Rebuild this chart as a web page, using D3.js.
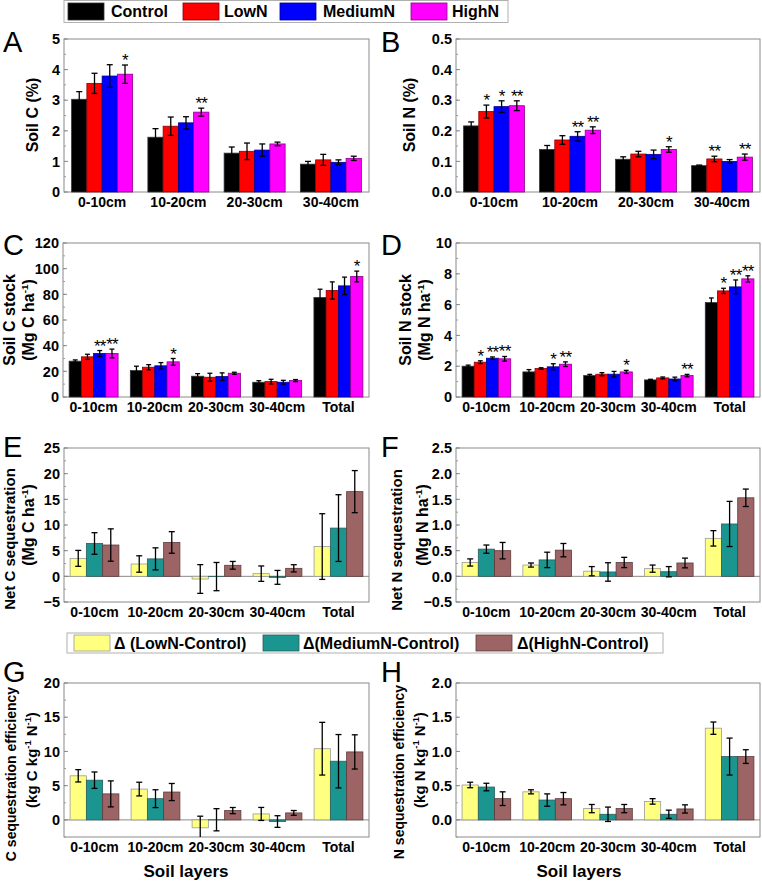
<!DOCTYPE html>
<html><head><meta charset="utf-8">
<script src="https://cdn.jsdelivr.net/npm/d3@7"></script>
<style>
body{margin:0;background:#fff}
svg{display:block}
text{font-family:Arial,"Liberation Sans",sans-serif;fill:#000}
</style>
</head><body>
<svg id="chart" width="762" height="884"></svg>
<script>
// ---------- categories ----------
const layers4 = ["0-10cm", "10-20cm", "20-30cm", "30-40cm"];
const layers5 = ["0-10cm", "10-20cm", "20-30cm", "30-40cm", "Total"];
const treatments = ["Control", "LowN", "MediumN", "HighN"];
const treatmentColors = ["#000000", "#ff0000", "#0000ff", "#ff00ff"];
const deltaNames = ["\u0394 (LowN-Control)", "\u0394(MediumN-Control)", "\u0394(HighN-Control)"];
const deltaColors = ["#ffff80", "#1b9590", "#9c6464"];

// ---------- A: Soil C (%) rows = treatments ----------
const soilC    = [[3.03, 1.79, 1.27, 0.91], [3.55, 2.15, 1.33, 1.05], [3.79, 2.26, 1.37, 0.97], [3.85, 2.61, 1.57, 1.10]];
const soilCErr = [[0.25, 0.28, 0.20, 0.09], [0.33, 0.30, 0.27, 0.18], [0.37, 0.20, 0.20, 0.08], [0.30, 0.13, 0.06, 0.07]];
const soilCSig = [["", "", "", ""], ["", "", "", ""], ["", "", "", ""], ["*", "**", "", ""]];

// ---------- B: Soil N (%) ----------
const soilN    = [[0.216, 0.139, 0.107, 0.086], [0.263, 0.170, 0.124, 0.108], [0.279, 0.182, 0.123, 0.100], [0.282, 0.202, 0.139, 0.114]];
const soilNErr = [[0.013, 0.013, 0.008, 0.002], [0.021, 0.014, 0.009, 0.009], [0.019, 0.015, 0.014, 0.006], [0.016, 0.011, 0.009, 0.010]];
const soilNSig = [["", "", "", ""], ["*", "", "", "**"], ["*", "**", "", ""], ["**", "**", "*", "**"]];

// ---------- C: Soil C stock ----------
const stockC    = [[27.9, 20.6, 16.2, 11.5, 77.5], [31.3, 23.2, 15.4, 12.0, 83.0], [33.9, 24.3, 15.9, 11.5, 86.6], [33.9, 27.4, 18.5, 12.8, 93.9]];
const stockCErr = [[1.0, 3.4, 2.0, 1.2, 6.5], [2.0, 2.0, 3.1, 1.8, 6.7], [2.3, 2.5, 2.9, 1.5, 6.8], [3.4, 2.6, 0.8, 0.8, 4.2]];
const stockCSig = [["", "", "", "", ""], ["", "", "", "", ""], ["**", "", "", "", ""], ["**", "*", "", "", "*"]];

// ---------- D: Soil N stock ----------
const stockN    = [[2.00, 1.63, 1.39, 1.11, 6.13], [2.26, 1.85, 1.48, 1.24, 6.89], [2.52, 1.96, 1.48, 1.17, 7.15], [2.48, 2.13, 1.63, 1.39, 7.67]];
const stockNErr = [[0.07, 0.15, 0.08, 0.04, 0.30], [0.09, 0.05, 0.10, 0.06, 0.17], [0.08, 0.20, 0.18, 0.12, 0.45], [0.15, 0.15, 0.10, 0.08, 0.20]];
const stockNSig = [["", "", "", "", ""], ["*", "", "", "", "*"], ["**", "*", "", "", "**"], ["**", "**", "*", "**", "**"]];

// ---------- E: Net C sequestration (rows = deltas) ----------
const netC    = [[3.5, 2.4, -0.52, 0.52, 5.8], [6.4, 3.4, -0.05, -0.2, 9.4], [6.1, 6.6, 2.15, 1.56, 16.5]];
const netCErr = [[1.55, 1.6, 2.8, 1.5, 6.4], [2.1, 2.15, 2.75, 1.35, 6.5], [3.15, 2.1, 0.75, 0.7, 4.1]];

// ---------- F: Net N sequestration ----------
const netN    = [[0.27, 0.22, 0.10, 0.15, 0.74], [0.53, 0.32, 0.085, 0.09, 1.02], [0.50, 0.51, 0.27, 0.26, 1.53]];
const netNErr = [[0.07, 0.04, 0.09, 0.07, 0.15], [0.08, 0.15, 0.18, 0.10, 0.44], [0.16, 0.13, 0.10, 0.095, 0.17]];

// ---------- G: C sequestration efficiency ----------
const effC    = [[6.44, 4.5, -1.16, 0.87, 10.4], [5.8, 3.1, 0.02, -0.24, 8.57], [3.8, 4.07, 1.36, 1.02, 9.93]];
const effCErr = [[0.9, 1.0, 1.7, 0.95, 3.85], [1.2, 1.3, 1.62, 0.85, 3.9], [1.9, 1.25, 0.45, 0.35, 2.5]];

// ---------- H: N sequestration efficiency ----------
const effN    = [[0.51, 0.41, 0.165, 0.27, 1.34], [0.48, 0.29, 0.082, 0.082, 0.925], [0.31, 0.31, 0.165, 0.16, 0.925]];
const effNErr = [[0.04, 0.03, 0.06, 0.04, 0.09], [0.055, 0.09, 0.105, 0.06, 0.27], [0.1, 0.09, 0.06, 0.06, 0.1]];

// ---------- drawing ----------
const svg = d3.select("#chart");

function drawPanel(cfg) {
  const g = svg.append("g");
  const x = d3.scaleBand().domain(cfg.cats).range([cfg.x0, cfg.x1]).paddingInner(0.2).paddingOuter(0.1);
  const nS = cfg.values.length;
  const xi = d3.scaleBand().domain(d3.range(nS)).range([0, x.bandwidth()]);
  const y = d3.scaleLinear().domain(cfg.domain).range([cfg.y1, cfg.y0]);
  const [dmin, dmax] = cfg.domain;

  g.append("rect").attr("x", cfg.x0).attr("y", cfg.y0)
    .attr("width", cfg.x1 - cfg.x0).attr("height", cfg.y1 - cfg.y0)
    .attr("fill", "none").attr("stroke", "#8a8a8a").attr("stroke-width", 1);

  const major = d3.range(cfg.tickStart, dmax + cfg.step / 1000, cfg.step);
  const minor = d3.range(dmin, dmax + cfg.step / 1000, cfg.step / 2);
  g.selectAll(".mn").data(minor).join("line")
    .attr("x1", cfg.x0).attr("x2", cfg.x0 + 2)
    .attr("y1", d => y(d)).attr("y2", d => y(d)).attr("stroke", "#9a9a9a");
  g.selectAll(".mj").data(major).join("line")
    .attr("x1", cfg.x0).attr("x2", cfg.x0 + 4)
    .attr("y1", d => y(d)).attr("y2", d => y(d)).attr("stroke", "#8a8a8a");
  g.selectAll(".yl").data(major).join("text")
    .attr("x", cfg.x0 - 4).attr("y", d => y(d)).attr("dy", "0.36em")
    .attr("text-anchor", "end").attr("font-size", 14.5).attr("font-weight", "bold")
    .text(d => d3.format(cfg.fmt)(d));

  if (dmin < 0) {
    g.append("line").attr("x1", cfg.x0).attr("x2", cfg.x1)
      .attr("y1", y(0)).attr("y2", y(0)).attr("stroke", "#8a8a8a");
  }

  cfg.values.forEach((row, s) => {
    row.forEach((v, i) => {
      const bx = x(cfg.cats[i]) + xi(s);
      const bw = xi.bandwidth();
      g.append("rect").attr("x", bx).attr("y", y(Math.max(0, v)))
        .attr("width", bw).attr("height", Math.abs(y(v) - y(0)))
        .attr("fill", cfg.colors[s]).attr("stroke", cfg.strokes[s]).attr("stroke-width", 0.8);
    });
  });
  cfg.values.forEach((row, s) => {
    row.forEach((v, i) => {
      const cx = x(cfg.cats[i]) + xi(s) + xi.bandwidth() / 2;
      const e = cfg.errs[s][i];
      const top = v + e, bot = Math.max(dmin, v - e);
      const cw = Math.min(3, xi.bandwidth() * 0.2);
      g.append("line").attr("x1", cx).attr("x2", cx).attr("y1", y(top)).attr("y2", y(bot))
        .attr("stroke", "#000").attr("stroke-width", 1.3);
      g.append("line").attr("x1", cx - cw).attr("x2", cx + cw).attr("y1", y(top)).attr("y2", y(top))
        .attr("stroke", "#000").attr("stroke-width", 1.3);
      if (v - e >= dmin) {
        g.append("line").attr("x1", cx - cw).attr("x2", cx + cw).attr("y1", y(bot)).attr("y2", y(bot))
          .attr("stroke", "#000").attr("stroke-width", 1.3);
      }
      if (cfg.sig && cfg.sig[s][i]) {
        g.append("text").attr("x", cx).attr("y", y(top) + 1)
          .attr("text-anchor", "middle").attr("font-size", 17)
          .attr("letter-spacing", -0.8)
          .text(cfg.sig[s][i]);
      }
    });
  });

  g.selectAll(".xl").data(cfg.cats).join("text")
    .attr("x", d => x(d) + x.bandwidth() / 2).attr("y", cfg.y1 + 15)
    .attr("text-anchor", "middle").attr("font-size", 14).attr("font-weight", "bold")
    .text(d => d);

  g.append("text").attr("x", cfg.letterX).attr("y", cfg.letterY)
    .attr("font-size", 29).text(cfg.letter);

  cfg.titles.forEach(t => {
    const tx = g.append("text")
      .attr("transform", `translate(${t.x},${t.cy}) rotate(-90)`)
      .attr("text-anchor", "middle").attr("font-size", t.size).attr("font-weight", "bold");
    if (t.sup) {
      t.parts.forEach((p, k) => {
        const ts = tx.append("tspan").text(p);
        if (k % 2 === 1) ts.attr("font-size", t.size * 0.62).attr("dy", -6);
        else if (k > 0) ts.attr("dy", 6);
      });
    } else {
      tx.text(t.text);
    }
  });
}

const strokeT = ["#333", "#8b0000", "#00008b", "#8b008b"];
const strokeD = ["#9a9a9a", "#2b5e5c", "#5e3b3b"];

drawPanel({letter: "A", letterX: 3, letterY: 52, cats: layers4, values: soilC, errs: soilCErr, sig: soilCSig,
  colors: treatmentColors, strokes: strokeT, domain: [0, 5], tickStart: 0, step: 1, fmt: "d",
  x0: 64, x1: 369, y0: 39, y1: 192,
  titles: [{x: 38, cy: 115, size: 16, text: "Soil C (%)"}]});

drawPanel({letter: "B", letterX: 381, letterY: 52, cats: layers4, values: soilN, errs: soilNErr, sig: soilNSig,
  colors: treatmentColors, strokes: strokeT, domain: [0, 0.5], tickStart: 0, step: 0.1, fmt: ".1f",
  x0: 456, x1: 760, y0: 39, y1: 192,
  titles: [{x: 415, cy: 115, size: 16, text: "Soil N (%)"}]});

drawPanel({letter: "C", letterX: 3, letterY: 255, cats: layers5, values: stockC, errs: stockCErr, sig: stockCSig,
  colors: treatmentColors, strokes: strokeT, domain: [0, 120], tickStart: 0, step: 20, fmt: "d",
  x0: 63, x1: 369, y0: 243, y1: 397,
  titles: [{x: 15, cy: 320, size: 16, text: "Soil C stock"},
           {x: 34, cy: 320, size: 16, sup: true, parts: ["(Mg C ha", "-1", ")"]}]});

drawPanel({letter: "D", letterX: 381, letterY: 255, cats: layers5, values: stockN, errs: stockNErr, sig: stockNSig,
  colors: treatmentColors, strokes: strokeT, domain: [0, 10], tickStart: 0, step: 2, fmt: "d",
  x0: 456, x1: 760, y0: 243, y1: 397,
  titles: [{x: 411, cy: 320, size: 16, text: "Soil N stock"},
           {x: 430, cy: 320, size: 16, sup: true, parts: ["(Mg N ha", "-1", ")"]}]});

drawPanel({letter: "E", letterX: 3, letterY: 457, cats: layers5, values: netC, errs: netCErr,
  colors: deltaColors, strokes: strokeD, domain: [-5, 25], tickStart: -5, step: 5, fmt: "d",
  x0: 64, x1: 369, y0: 448, y1: 602,
  titles: [{x: 15, cy: 539, size: 15, text: "Net C sequestration"},
           {x: 34, cy: 525, size: 16, sup: true, parts: ["(Mg C ha", "-1", ")"]}]});

drawPanel({letter: "F", letterX: 381, letterY: 457, cats: layers5, values: netN, errs: netNErr,
  colors: deltaColors, strokes: strokeD, domain: [-0.5, 2.5], tickStart: -0.5, step: 0.5, fmt: ".1f",
  x0: 456, x1: 760, y0: 448, y1: 602,
  titles: [{x: 402, cy: 540, size: 15, text: "Net N sequestration"},
           {x: 428, cy: 525, size: 16, sup: true, parts: ["(Mg N ha", "-1", ")"]}]});

drawPanel({letter: "G", letterX: 3, letterY: 682, cats: layers5, values: effC, errs: effCErr,
  colors: deltaColors, strokes: strokeD, domain: [-2.5, 20], tickStart: 0, step: 5, fmt: "d",
  x0: 64, x1: 369, y0: 683, y1: 837,
  titles: [{x: 16, cy: 774, size: 14, text: "C sequestration efficiency"},
           {x: 37, cy: 760, size: 15, sup: true, parts: ["(kg C kg", "-1", " N", "-1", ")"]}]});

drawPanel({letter: "H", letterX: 381, letterY: 682, cats: layers5, values: effN, errs: effNErr,
  colors: deltaColors, strokes: strokeD, domain: [-0.25, 2.0], tickStart: 0, step: 0.5, fmt: ".1f",
  x0: 456, x1: 760, y0: 683, y1: 837,
  titles: [{x: 404, cy: 772, size: 14, text: "N sequestration efficiency"},
           {x: 425, cy: 760, size: 15, sup: true, parts: ["(kg N kg", "-1", " N", "-1", ")"]}]});

svg.append("text").attr("x", 186).attr("y", 877).attr("text-anchor", "middle")
  .attr("font-size", 17).attr("font-weight", "bold").text("Soil layers");
svg.append("text").attr("x", 579).attr("y", 877).attr("text-anchor", "middle")
  .attr("font-size", 17).attr("font-weight", "bold").text("Soil layers");

function legend(names, colors, strokes, box, swX, txX, y0, h) {
  const g = svg.append("g");
  g.append("rect").attr("x", box[0]).attr("y", box[1]).attr("width", box[2] - box[0]).attr("height", box[3] - box[1])
    .attr("fill", "#fff").attr("stroke", "#b0b0b0");
  names.forEach((n, i) => {
    g.append("rect").attr("x", swX[i]).attr("y", y0).attr("width", 36).attr("height", h)
      .attr("fill", colors[i]).attr("stroke", strokes[i]).attr("stroke-width", 0.8);
    g.append("text").attr("x", txX[i]).attr("y", y0 + h / 2).attr("dy", "0.36em")
      .attr("font-size", 16).attr("font-weight", "bold").text(n);
  });
}
legend(treatments, treatmentColors, strokeT, [64, 0.5, 508, 22.5], [68, 183, 280, 411], [111, 224, 323, 452], 3, 17);
legend(deltaNames, deltaColors, strokeD, [67, 633, 663, 653], [74, 263, 476], [114, 303, 517], 635, 16);
</script>
</body></html>
